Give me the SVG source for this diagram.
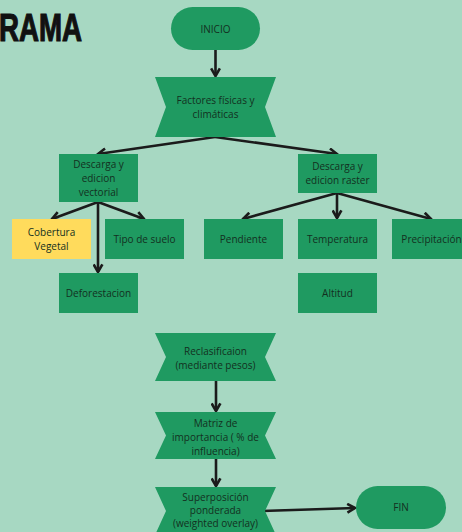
<svg xmlns="http://www.w3.org/2000/svg" width="462" height="532" viewBox="0 0 462 532">
<style>
.n{fill:#1f9a61}
.y{fill:#ffdb5c}
.t{font-family:"Open Sans","Noto Sans",sans-serif;font-size:10px;fill:#13301f;text-anchor:middle}
.c line{stroke:#1b1b1b;stroke-width:2.6;marker-end:url(#a)}
</style>
<defs>
<marker id="a" viewBox="0 0 10 10" refX="8.5" refY="5" markerWidth="11" markerHeight="11" markerUnits="userSpaceOnUse" orient="auto">
<path d="M1.5,1 L8.5,5 L1.5,9" fill="none" stroke="#1b1b1b" stroke-width="2.4" stroke-linejoin="miter"/>
</marker>
</defs>
<rect width="462" height="532" fill="#a7d8c2"/>
<text x="-1" y="40.5" font-family="Liberation Sans,Arial,sans-serif" font-weight="bold" font-size="39" fill="#111" stroke="#111" stroke-width="1.2" textLength="83" lengthAdjust="spacingAndGlyphs">RAMA</text>

<g class="c">
<line x1="215.5" y1="50" x2="215.5" y2="76"/>
<line x1="215" y1="137" x2="98" y2="154"/>
<line x1="215" y1="137" x2="337" y2="154"/>
<line x1="98" y1="202" x2="52" y2="219"/>
<line x1="98" y1="202" x2="144" y2="219"/>
<line x1="98" y1="202" x2="98" y2="272"/>
<line x1="337" y1="193" x2="243" y2="219"/>
<line x1="337" y1="193" x2="337" y2="218"/>
<line x1="337" y1="193" x2="431" y2="219"/>
<line x1="216" y1="381" x2="216" y2="411"/>
<line x1="216" y1="459" x2="216" y2="486"/>
<line x1="262" y1="511" x2="355" y2="508"/>
</g>

<g id="inicio"><rect class="n" x="171" y="7" width="89" height="43" rx="21.5"/><text class="t" x="215.5" y="32.5">INICIO</text></g>
<g id="factores"><path class="n" d="M155,77 H276 L265,107 L276,137 H155 L166,107 Z"/><text class="t" x="215.5" y="103.5">Factores físicas y</text><text class="t" x="215.5" y="117.5">climáticas</text></g>
<g id="vectorial"><rect class="n" x="59" y="154" width="79" height="48"/><text class="t" x="98.5" y="167.5">Descarga y</text><text class="t" x="98.5" y="181.5">edicion</text><text class="t" x="98.5" y="195.5">vectorial</text></g>
<g id="raster"><rect class="n" x="298" y="154" width="79" height="39"/><text class="t" x="337.5" y="170">Descarga y</text><text class="t" x="337.5" y="184">edicion raster</text></g>
<g id="cobertura"><rect class="y" x="12" y="219" width="79" height="40"/><text class="t" x="51.5" y="236">Cobertura</text><text class="t" x="51.5" y="250">Vegetal</text></g>
<g id="suelo"><rect class="n" x="105" y="219" width="79" height="40"/><text class="t" x="144.5" y="242.5">Tipo de suelo</text></g>
<g id="deforestacion"><rect class="n" x="59" y="273" width="79" height="40"/><text class="t" x="98.5" y="296.5">Deforestacion</text></g>
<g id="pendiente"><rect class="n" x="204" y="219" width="79" height="40"/><text class="t" x="243.5" y="242.5">Pendiente</text></g>
<g id="temperatura"><rect class="n" x="298" y="219" width="79" height="40"/><text class="t" x="337.5" y="242.5">Temperatura</text></g>
<g id="precipitacion"><rect class="n" x="392" y="219" width="79" height="40"/><text class="t" x="431.5" y="242.5">Precipitación</text></g>
<g id="altitud"><rect class="n" x="298" y="273" width="79" height="40"/><text class="t" x="337.5" y="296.5">Altitud</text></g>
<g id="reclasificacion"><path class="n" d="M155,333 H276 L265,357 L276,381 H155 L166,357 Z"/><text class="t" x="215.5" y="354.5">Reclasificaion</text><text class="t" x="215.5" y="368.5">(mediante pesos)</text></g>
<g id="matriz"><path class="n" d="M155,412 H276 L265,435.5 L276,459 H155 L166,435.5 Z"/><text class="t" x="215.5" y="426.5">Matriz de</text><text class="t" x="215.5" y="440.5">importancia ( % de</text><text class="t" x="215.5" y="454.5">influencia)</text></g>
<g id="superposicion"><path class="n" d="M155,487 H276 L265,511 L276,535 H155 L166,511 Z"/><text class="t" x="215.5" y="500.5">Superposición</text><text class="t" x="215.5" y="514">ponderada</text><text class="t" x="215.5" y="527">(weighted overlay)</text></g>
<g id="fin"><rect class="n" x="356" y="486" width="90" height="43" rx="21.5"/><text class="t" x="401" y="511">FIN</text></g>
</svg>
